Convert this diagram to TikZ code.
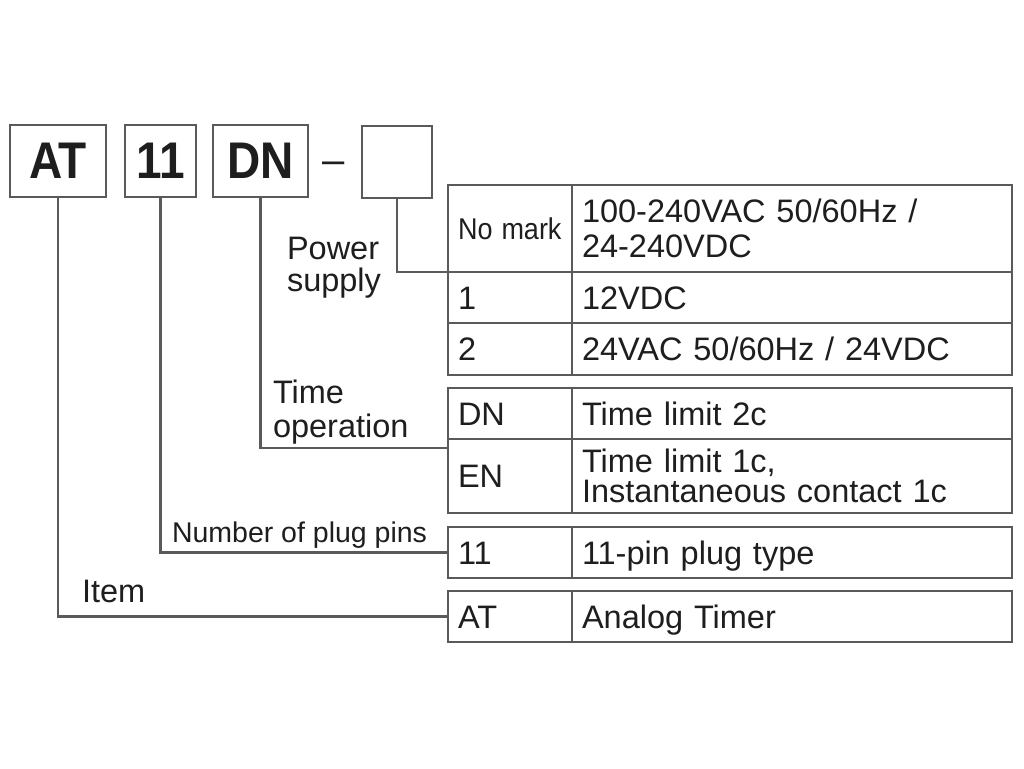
\documentclass[tikz,border=0pt]{standalone}
\usepackage{fontspec}
\setmainfont{Liberation Sans}
\definecolor{lncol}{HTML}{5A5A5A}
\definecolor{txcol}{HTML}{1E1E1E}
\begin{document}
\begin{tikzpicture}[x=1pt,y=-1pt,
 frm/.style={draw=lncol,line width=2.4pt},
 topbox/.style={frm,minimum height=72pt,inner sep=0pt,outer sep=0pt,font=\fontsize{46}{46}\selectfont\bfseries,text=txcol},
 cellL/.style={frm,anchor=north west,inner xsep=10pt,inner ysep=0pt,outer sep=0pt,text width=104pt,align=left,font=\fontsize{32.5}{35}\selectfont,text=txcol},
 cellR/.style={cellL,text width=420pt},
 oneline/.style={text height=23.5pt,text depth=0pt},
 lab/.style={inner sep=0pt,outer sep=0pt,font=\fontsize{32.5}{32}\selectfont,text=txcol,align=left},
 conn/.style={draw=lncol,line width=2.2pt}]
\useasboundingbox (0,0) rectangle (1024,768);
\fill[white] (0,0) rectangle (1024,768);

% top code boxes
\node[topbox,minimum width=96pt] (bAT) at (58,161) {\scalebox{1}[1.12]{AT}};
\node[topbox,minimum width=71pt] (b11) at (160.5,161) {\scalebox{1}[1.12]{11}};
\node[topbox,minimum width=95pt] (bDN) at (260.5,161) {\scalebox{1}[1.12]{DN}};
\node[anchor=base,inner sep=0pt,font=\fontsize{40}{40}\selectfont,text=txcol] (dash) at (333.5,173) {–};
\node[topbox,minimum width=70pt] (bPS) at (397,162) {};

% table 1 : power supply
\node[cellL,minimum height=87pt,font=\fontsize{30}{30}\selectfont] (c11) at (448,185) {\scalebox{0.9}[1]{No mark}};
\node[cellR,minimum height=87pt] (c12) at (572,185) {100-240VAC 50/60Hz /\\24-240VDC};
\node[cellL,oneline,minimum height=51pt] (c21) at (448,272) {1};
\node[cellR,oneline,minimum height=51pt] (c22) at (572,272) {12VDC};
\node[cellL,oneline,minimum height=52pt] (c31) at (448,323) {2};
\node[cellR,oneline,minimum height=52pt] (c32) at (572,323) {24VAC 50/60Hz / 24VDC};

% table 2 : time operation
\node[cellL,oneline,minimum height=51pt] (d11) at (448,388) {DN};
\node[cellR,oneline,minimum height=51pt] (d12) at (572,388) {Time limit 2c};
\node[cellL,oneline,minimum height=74pt] (d21) at (448,439) {EN};
\node[cellR,minimum height=74pt,font=\fontsize{32.5}{30}\selectfont] (d22) at (572,439) {Time limit 1c,\\Instantaneous contact 1c};

% table 3 : plug pins
\node[cellL,oneline,minimum height=51pt] (e11) at (448,527) {11};
\node[cellR,oneline,minimum height=51pt] (e12) at (572,527) {11-pin plug type};

% table 4 : item
\node[cellL,oneline,minimum height=51pt] (f11) at (448,591) {AT};
\node[cellR,oneline,minimum height=51pt] (f12) at (572,591) {Analog Timer};

% labels
\node[lab,anchor=north west] (lPS) at (287,237) {Power\\supply};
\node[lab,anchor=north west,font=\fontsize{32.5}{34}\selectfont] (lTO) at (273,380) {Time\\operation};
\node[lab,anchor=base west,font=\fontsize{28.5}{28.5}\selectfont] (lNP) at (172,542) {Number of plug pins};
\node[lab,anchor=base west] (lIT) at (82,602) {Item};

% connectors
\coordinate (t2in) at (448,448);
\draw[conn] (bPS.south) |- (c21.north west);
\draw[conn] (bDN.south) |- (t2in);
\draw[conn] (b11.south) |- (e11.west);
\draw[conn] (bAT.south) |- (f11.west);
\end{tikzpicture}
\end{document}
